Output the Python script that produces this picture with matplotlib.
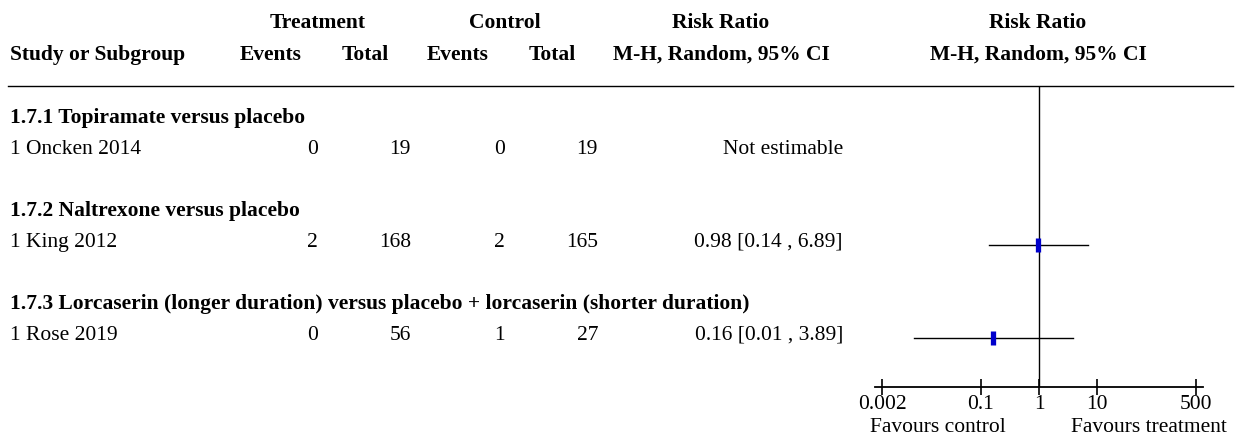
import matplotlib
matplotlib.use("Agg")
import matplotlib.pyplot as plt
import numpy as np

plt.rcParams['font.family'] = ['Liberation Serif', 'DejaVu Serif']

# ---------------- data ----------------
subgroups = ["1.7.1 Topiramate versus placebo",
             "1.7.2 Naltrexone versus placebo",
             "1.7.3 Lorcaserin (longer duration) versus placebo + lorcaserin (shorter duration)"]
studies = ["1 Oncken 2014", "1 King 2012", "1 Rose 2019"]
trt_events = [0, 2, 0]
trt_total = [19, 168, 56]
ctl_events = [0, 2, 1]
ctl_total = [19, 165, 27]
rr = [None, 0.98, 0.16]
ci_low = [None, 0.14, 0.007]
ci_high = [None, 6.89, 3.89]
rr_labels = ["Not estimable", "0.98 [0.14 , 6.89]", "0.16 [0.01 , 3.89]"]
tick_values = [0.002, 0.1, 1, 10, 500]
tick_labels = ["0.002", "0.1", "1", "10", "500"]

# ---------------- layout ----------------
W, H = 1239, 440
fig = plt.figure(figsize=(W / 100, H / 100), dpi=100)
FS = 15.5

pitch = 31.0
y0 = 118.0
def row_of(px):
    return (px - y0) / pitch

ylim = (row_of(H), row_of(0))

ax = fig.add_axes([0, 0, 1, 1])
ax.set_xlim(0, W)
ax.set_ylim(*ylim)
ax.axis('off')

bold = dict(va='center', fontsize=FS, fontweight='bold')
# headers
hy1, hy2 = row_of(23), row_of(55)
ax.text(318, hy1, "Treatment", ha='center', **bold)
ax.text(505, hy1, "Control", ha='center', **bold)
ax.text(721, hy1, "Risk Ratio", ha='center', **bold)
ax.text(1038, hy1, "Risk Ratio", ha='center', **bold)
ax.text(10, hy2, "Study or Subgroup", ha='left', **bold)
ax.text(271, hy2, "Events", ha='center', **bold)
ax.text(365, hy2, "Total", ha='center', **bold)
ax.text(458, hy2, "Events", ha='center', **bold)
ax.text(552, hy2, "Total", ha='center', **bold)
ax.text(721, hy2, "M-H, Random, 95% CI", ha='center', **bold)
ax.text(1038, hy2, "M-H, Random, 95% CI", ha='center', **bold)

rule_y = row_of(86)
ax.plot([8, 1233], [rule_y, rule_y], color='black', lw=1.0)

for i in range(len(studies)):
    gy = 3 * i
    sy = 3 * i + 1
    ax.text(10, gy, subgroups[i], ha='left', **bold)
    ax.text(10, sy, studies[i], ha='left', va='center', fontsize=FS)
    ax.text(318, sy, str(trt_events[i]), ha='right', va='center', fontsize=FS)
    ax.text(411, sy, str(trt_total[i]), ha='right', va='center', fontsize=FS)
    ax.text(505, sy, str(ctl_events[i]), ha='right', va='center', fontsize=FS)
    ax.text(598, sy, str(ctl_total[i]), ha='right', va='center', fontsize=FS)
    ax.text(843, sy, rr_labels[i], ha='right', va='center', fontsize=FS)

ax.text(870, row_of(427), "Favours control", ha='left', va='center', fontsize=FS)
ax.text(1227, row_of(427), "Favours treatment", ha='right', va='center', fontsize=FS)

# ---------------- forest axes ----------------
px_dec = 58.0
ext = 7.0 / px_dec
xl = (tick_values[0] / 10 ** ext, tick_values[-1] * 10 ** ext)
x_left = 1039 + np.log10(xl[0]) * px_dec
x_right = 1039 + np.log10(xl[1]) * px_dec
axis_px = 387
fax = fig.add_axes([x_left / W, (H - axis_px) / H, (x_right - x_left) / W, (axis_px - 86) / H])
fax.set_xscale('log')
fax.set_xlim(*xl)
fax.set_ylim(row_of(axis_px), rule_y)
fax.patch.set_alpha(0)
for s in ['top', 'right', 'left']:
    fax.spines[s].set_visible(False)
fax.spines['bottom'].set_linewidth(1.3)
fax.set_yticks([])
fax.set_xticks(tick_values)
fax.set_xticklabels(tick_labels)
fax.xaxis.set_minor_locator(matplotlib.ticker.NullLocator())
fax.tick_params(axis='x', direction='inout', length=12, width=1.2, labelsize=FS, pad=0)
fax.axvline(1, color='black', lw=1.0)

for i in range(len(studies)):
    if rr[i] is None:
        continue
    sy = 3 * i + 1 + 0.1
    fax.plot([ci_low[i], ci_high[i]], [sy, sy], color='black', lw=1.0)
    fax.plot([rr[i]], [sy], marker='|', markersize=10, markeredgewidth=3.8, color='#0000CC')

fig.savefig("out.png", dpi=100)
